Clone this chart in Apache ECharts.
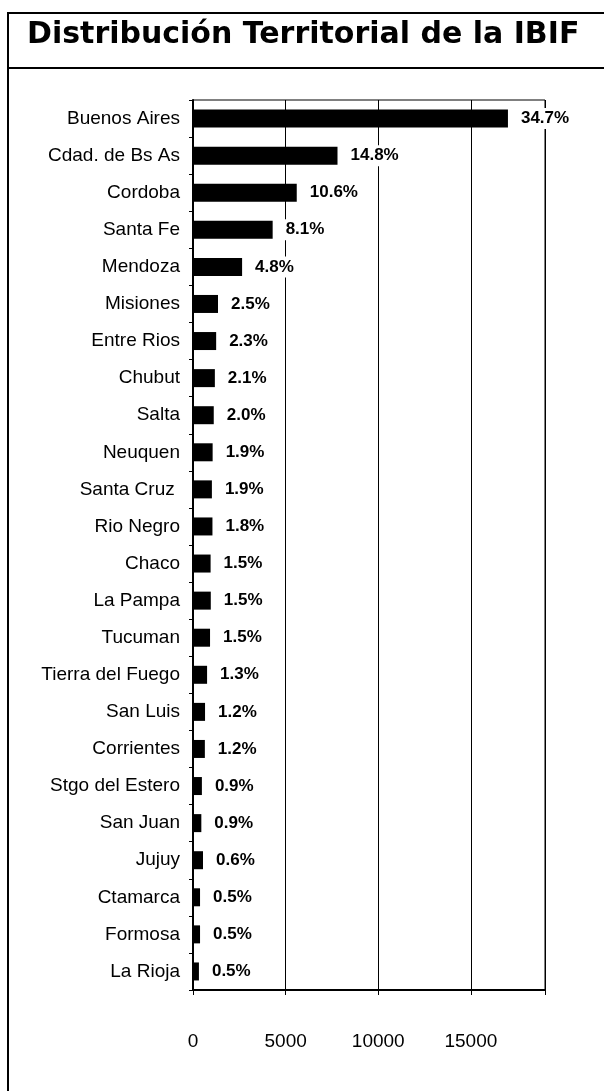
<!DOCTYPE html>
<html>
<head>
<meta charset="utf-8">
<script src="https://cdn.jsdelivr.net/npm/echarts@6/dist/echarts.min.js"></script>
<style>
html,body{margin:0;padding:0;background:#fff;}
#main{width:604px;height:1091px;}
</style>
</head>
<body>
<div id="main"></div>
<script>
// provincias (de arriba hacia abajo)
var categories = ['Buenos Aires','Cdad. de Bs As','Cordoba','Santa Fe','Mendoza','Misiones','Entre Rios',
  'Chubut','Salta','Neuquen','Santa Cruz ','Rio Negro','Chaco','La Pampa','Tucuman','Tierra del Fuego',
  'San Luis','Corrientes','Stgo del Estero','San Juan','Jujuy','Ctamarca','Formosa','La Rioja'];
var values = [17000,7800,5600,4300,2650,1350,1250,1180,1120,1060,1020,1050,950,960,920,760,
  650,640,480,450,540,380,380,320];
var pctLabels = ['34.7%','14.8%','10.6%','8.1%','4.8%','2.5%','2.3%','2.1%','2.0%','1.9%','1.9%','1.8%',
  '1.5%','1.5%','1.5%','1.3%','1.2%','1.2%','0.9%','0.9%','0.6%','0.5%','0.5%','0.5%'];
var xTicks = [0,5000,10000,15000];

var narrow = "'Liberation Sans Narrow','Arial Narrow','Liberation Sans',sans-serif";

var myChart = echarts.init(document.getElementById('main'));
var option = {
  backgroundColor: '#fff',
  animation: false,
  graphic: [
    {type:'rect', shape:{x:8, y:13, width:620, height:1100}, style:{fill:'none', stroke:'#000', lineWidth:2}},
    {type:'line', shape:{x1:8, y1:68, x2:604, y2:68}, style:{stroke:'#000', lineWidth:2}},
    {type:'text', x:27, y:35, style:{text:'Distribución Territorial de la IBIF',
      font:"bold 30px 'DejaVu Sans', Verdana, sans-serif", fill:'#000', verticalAlign:'middle'}}
  ],
  grid: {left:193, right:59, top:100, bottom:101, show:true, borderColor:'#000', borderWidth:1},
  xAxis: {
    type:'value', min:0, max:19000, interval:5000,
    axisLine:{show:true, lineStyle:{color:'#000', width:2}},
    axisTick:{show:true, length:5, lineStyle:{color:'#000'}},
    axisLabel:{
      margin:42, color:'#000', fontSize:19, fontFamily:narrow,
      formatter:function(v){ return xTicks.indexOf(v) >= 0 ? String(v) : ''; }
    },
    splitLine:{show:true, lineStyle:{color:'#000', width:1}}
  },
  yAxis: {
    type:'category', data:categories, inverse:true,
    axisLine:{show:true, lineStyle:{color:'#000', width:2}},
    axisTick:{show:true, length:4, lineStyle:{color:'#000'}},
    axisLabel:{margin:13, color:'#000', fontSize:19, fontFamily:narrow}
  },
  series: [{
    type:'bar',
    data:values,
    barWidth:18,
    itemStyle:{color:'#000'},
    label:{
      show:true, position:'right', distance:12,
      color:'#000', fontSize:17, fontWeight:'bold', fontFamily:narrow,
      backgroundColor:'#fff', padding:[2,1],
      formatter:function(p){ return pctLabels[p.dataIndex]; }
    }
  }]
};
myChart.setOption(option);
</script>
</body>
</html>
